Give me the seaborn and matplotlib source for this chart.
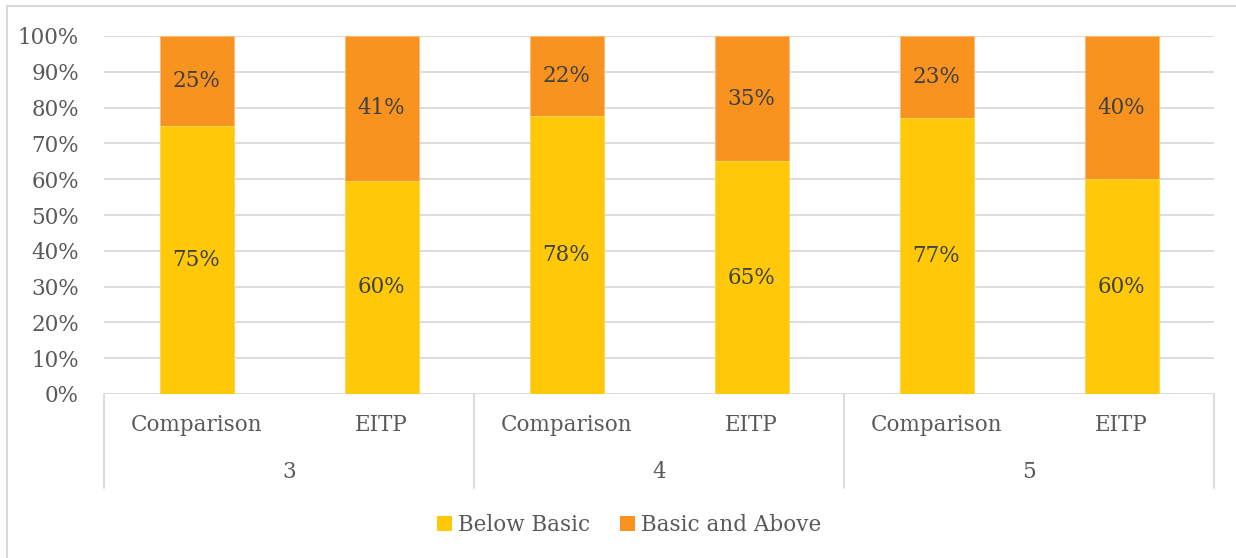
import matplotlib
matplotlib.use("Agg")
import matplotlib.pyplot as plt
import seaborn as sns
import pandas as pd
from matplotlib.lines import Line2D
from matplotlib.patches import Patch
from matplotlib.transforms import blended_transform_factory

# ---- data ----
grades = ["3", "4", "5"]
groups = ["Comparison", "EITP"]
below_basic = [75.0, 59.5, 77.6, 65.0, 77.0, 60.0]
basic_above = [25.0, 40.5, 22.4, 35.0, 23.0, 40.0]
yticks = [0, 10, 20, 30, 40, 50, 60, 70, 80, 90, 100]
series_names = ["Below Basic", "Basic and Above"]

YELLOW = "#FFC90A"
ORANGE = "#F7931E"
GRID = "#D9D9D9"
TICK_C = "#595959"
LABEL_C = "#404040"

sns.set_theme(style="white")
plt.rcParams["font.family"] = ["DejaVu Serif"]

cats = [f"{g}-{s}" for g in grades for s in groups]
df = pd.DataFrame({
    "cat": cats,
    "grade": [g for g in grades for _ in groups],
    "group": [s for _ in grades for s in groups],
    "below": below_basic,
    "above": basic_above,
})
df["total"] = df["below"] + df["above"]

W, H = 1236, 558
fig = plt.figure(figsize=(W / 100, H / 100), dpi=100)
ax = fig.add_axes([104 / W, 1 - 394 / H, (1214 - 104) / W, (394 - 36) / H])

sns.barplot(data=df, x="cat", y="total", order=cats, color=ORANGE, saturation=1,
            width=0.4, ax=ax, edgecolor="#FAB874", linewidth=0.6, zorder=2)
sns.barplot(data=df, x="cat", y="below", order=cats, color=YELLOW, saturation=1,
            width=0.4, ax=ax, edgecolor="#FFD95C", linewidth=0.6, zorder=3)

ax.set_xlim(-0.5, len(cats) - 0.5)
ax.set_ylim(0, 100)
ax.set_yticks(yticks)
ax.set_yticklabels([f"{v}%" for v in yticks], color=TICK_C, fontsize=15.5)
ax.tick_params(axis="y", length=0, pad=18)
ax.set_xticks([])
ax.set_xlabel("")
ax.set_ylabel("")
for sp in ax.spines.values():
    sp.set_visible(False)
ax.yaxis.grid(True, color=GRID, linewidth=1.3, zorder=0)
ax.set_axisbelow(True)

def fmt(v):
    return f"{int(v + 0.5)}%"

for i, row in df.iterrows():
    ax.text(i, row["below"] / 2, fmt(row["below"]), ha="center", va="center",
            color=LABEL_C, fontsize=15.5, zorder=5)
    ax.text(i, row["below"] + row["above"] / 2, fmt(row["above"]), ha="center",
            va="center", color=LABEL_C, fontsize=15.5, zorder=5)

# multi-level category axis
tr = blended_transform_factory(ax.transData, ax.transAxes)
n_sub = len(groups)
for k in range(len(grades) + 1):
    xs = k * n_sub - 0.5
    ax.add_line(Line2D([xs, xs], [0, -0.263], transform=tr, color=GRID,
                       linewidth=1.3, clip_on=False))
for i, row in df.iterrows():
    ax.text(i, -0.087, row["group"], transform=tr, ha="center", va="center",
            color=TICK_C, fontsize=15.5)
for k, g in enumerate(grades):
    ax.text(k * n_sub + (n_sub - 1) / 2, -0.218, g, transform=tr, ha="center",
            va="center", color=TICK_C, fontsize=15.5)

# legend
handles = [Patch(facecolor=YELLOW, edgecolor="none"), Patch(facecolor=ORANGE, edgecolor="none")]
fig.legend(handles, series_names, loc="center", bbox_to_anchor=(0.509, 1 - 525 / H),
           ncol=2, frameon=False, fontsize=15.5, handlelength=0.7, handleheight=0.7,
           handletextpad=0.25, columnspacing=1.4, labelcolor=TICK_C)

# chart frame
fig.add_artist(Line2D([7 / W, 7 / W], [0, 1 - 6 / H], transform=fig.transFigure,
                      color=GRID, linewidth=1.5))
fig.add_artist(Line2D([7 / W, 1], [1 - 6 / H, 1 - 6 / H], transform=fig.transFigure,
                      color=GRID, linewidth=1.5))

fig.savefig("out.png", dpi=100, facecolor="white")
